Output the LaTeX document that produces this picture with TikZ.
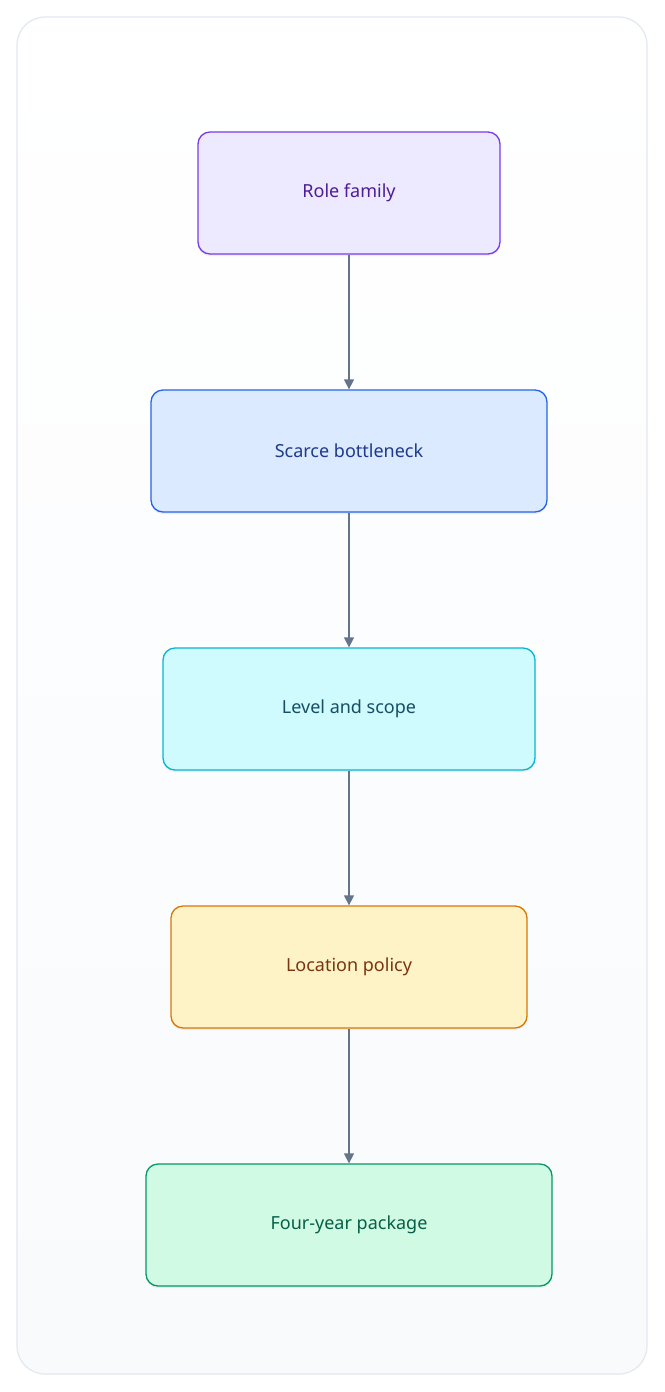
\documentclass[tikz,border=0pt]{standalone}
\usepackage{fontspec}
\setmainfont{Noto Sans}
\usetikzlibrary{arrows.meta,shadows}
\definecolor{arr}{HTML}{64748B}
\definecolor{bgb}{HTML}{F8FAFC}
\definecolor{bgl}{HTML}{E2E8F0}
\tikzset{
  box/.style={draw, rounded corners=12pt, line width=1.3pt, minimum height=122pt, font=\fontsize{18}{22}\selectfont, drop shadow={opacity=0.12, shadow xshift=0pt, shadow yshift=-2pt}},
  conn/.style={draw=arr, line width=1.3pt, -{Triangle[length=10pt,width=10pt]}}
}
\begin{document}
\begin{tikzpicture}[x=1pt,y=1pt]
\useasboundingbox (0,0) rectangle (664,-1392);
\shade[top color=white, bottom color=bgb, rounded corners=28pt] (17,-17) rectangle (647,-1374);
\draw[rounded corners=28pt, draw=bgl, line width=1.2pt] (17,-17) rectangle (647,-1374);
\node[box, fill={rgb,255:red,237;green,233;blue,254}, draw={rgb,255:red,124;green,58;blue,237}, text={rgb,255:red,76;green,29;blue,149}, minimum width=302pt] (a) at (349,-193) {Role family};
\node[box, fill={rgb,255:red,219;green,234;blue,254}, draw={rgb,255:red,37;green,99;blue,235}, text={rgb,255:red,30;green,58;blue,138}, minimum width=396pt] (b) at (349,-451) {Scarce bottleneck};
\node[box, fill={rgb,255:red,207;green,250;blue,254}, draw={rgb,255:red,6;green,182;blue,212}, text={rgb,255:red,22;green,78;blue,99}, minimum width=372pt] (c) at (349,-709) {Level and scope};
\node[box, fill={rgb,255:red,254;green,243;blue,199}, draw={rgb,255:red,217;green,119;blue,6}, text={rgb,255:red,120;green,53;blue,15}, minimum width=356pt] (d) at (349,-967) {Location policy};
\node[box, fill={rgb,255:red,209;green,250;blue,229}, draw={rgb,255:red,5;green,150;blue,105}, text={rgb,255:red,6;green,95;blue,70}, minimum width=406pt] (e) at (349,-1225) {Four-year package};
\draw[conn] (a) -- (b);
\draw[conn] (b) -- (c);
\draw[conn] (c) -- (d);
\draw[conn] (d) -- (e);
\end{tikzpicture}
\end{document}
